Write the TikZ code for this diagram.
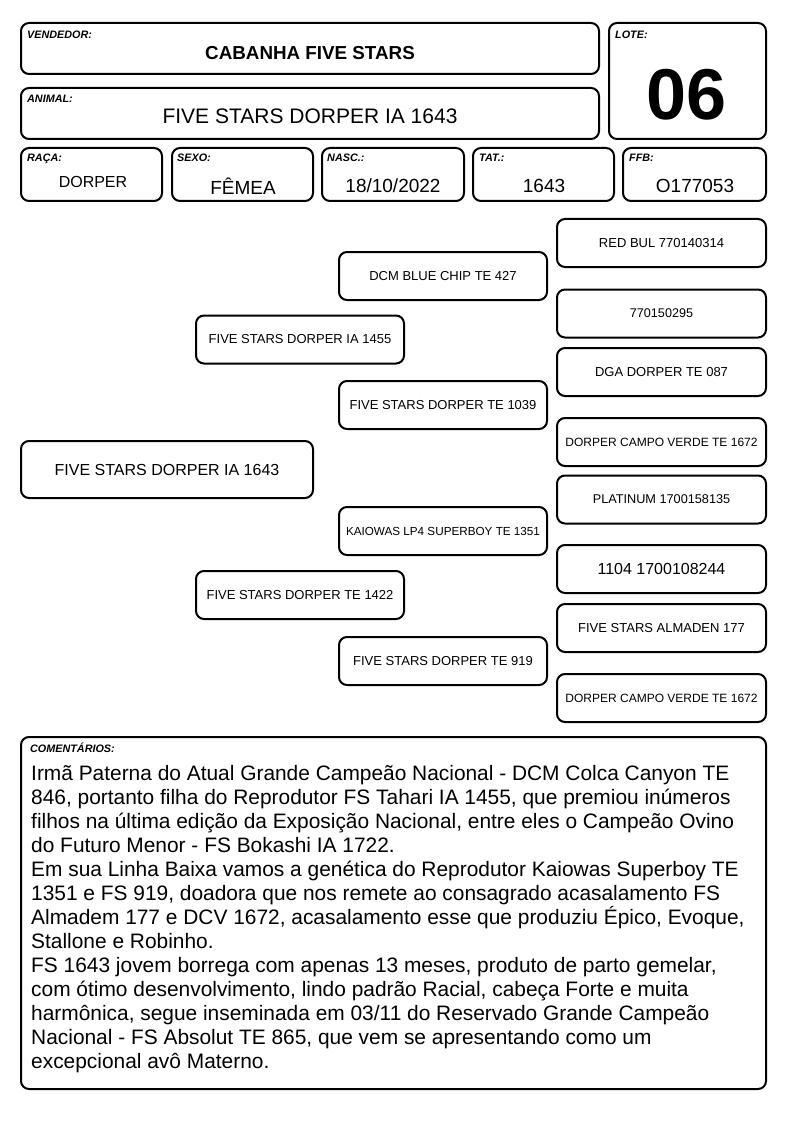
\documentclass[tikz,border=0pt]{standalone}
\usepackage{fontspec}
\setmainfont{Liberation Sans}
\usetikzlibrary{positioning}
\newcommand{\fsz}[1]{\fontsize{#1}{#1}\selectfont}

\begin{document}
\begin{tikzpicture}[x=1pt,y=-1pt,
  box/.style={draw,line width=2pt,rounded corners=8pt,inner sep=0pt},
  lbl/.style={anchor=base west,inner sep=0pt,font=\fsz{10.8}\bfseries\itshape},
  ped/.style={box,minimum width=208pt,minimum height=48pt,font=\fsz{13}}]
\useasboundingbox (0,0) rectangle (794,1123);
\fill [white] (0,0) rectangle (794,1123);

% Header boxes
\node [box,minimum width=578pt,minimum height=51pt] (vendedor) at (310,48.5) {};
\node [box,minimum width=157pt,minimum height=116pt] (lote) at (687.5,81) {};
\node [box,minimum width=578pt,minimum height=51pt] (animal) at (310,113.5) {};
\node [lbl] at (27,39) {VENDEDOR:};
\node [lbl] at (615,39) {LOTE:};
\node [lbl] at (27,103) {ANIMAL:};
\node [font=\fsz{18.8}\bfseries] (vendnome) at (310,53) {CABANHA FIVE STARS};
\node [font=\fsz{72}\bfseries] (lotenum) at (687,95) {06};
\node [font=\fsz{21}] (animalnome) at (310,116) {FIVE STARS DORPER IA 1643};

% Data row
\node [box,minimum width=141pt,minimum height=53pt] (raca) at (91.5,174.5) {};
\node [box,minimum width=141pt,minimum height=53pt] (sexo) at (242.5,174.5) {};
\node [box,minimum width=142pt,minimum height=53pt] (nasc) at (393,174.5) {};
\node [box,minimum width=141pt,minimum height=53pt] (tat) at (543.5,174.5) {};
\node [box,minimum width=143pt,minimum height=53pt] (ffb) at (694.5,174.5) {};
\node [lbl] at (27,162) {RAÇA:};
\node [lbl] at (177,162) {SEXO:};
\node [lbl] at (327,162) {NASC.:};
\node [lbl] at (479,162) {TAT.:};
\node [lbl] at (629,162) {FFB:};
\node [font=\fsz{16}] at (93,182) {DORPER};
\node [font=\fsz{19}] at (243,186) {FÊMEA};
\node [font=\fsz{19}] at (393,186) {18/10/2022};
\node [font=\fsz{19}] at (544,186) {1643};
\node [font=\fsz{19}] at (695,186) {O177053};

% Pedigree
\node [box,minimum width=292pt,minimum height=57pt,font=\fsz{16}] (animalped) at (167,469.5) {FIVE STARS DORPER IA 1643};
\node [ped] (pai) at (300,339.5) {FIVE STARS DORPER IA 1455};
\node [ped] (mae) at (300,595) {FIVE STARS DORPER TE 1422};
\node [ped] (avopai) at (443,276) {DCM BLUE CHIP TE 427};
\node [ped] (avopaim) at (443,405) {FIVE STARS DORPER TE 1039};
\node [ped,font=\fsz{11.7}] (avomae) at (443,531) {KAIOWAS LP4 SUPERBOY TE 1351};
\node [ped] (avomaem) at (443,661) {FIVE STARS DORPER TE 919};
\node [ped,minimum width=209pt] (b1) at (661.5,243) {RED BUL 770140314};
\node [ped,minimum width=209pt,font=\fsz{12.6}] (b2) at (661.5,313.5) {770150295};
\node [ped,minimum width=209pt] (b3) at (661.5,372) {DGA DORPER TE 087};
\node [ped,minimum width=209pt,font=\fsz{12}] (b4) at (661.5,442) {DORPER CAMPO VERDE TE 1672};
\node [ped,minimum width=209pt,font=\fsz{12.7}] (b5) at (661.5,499.5) {PLATINUM 1700158135};
\node [ped,minimum width=209pt,font=\fsz{16}] (b6) at (661.5,569) {1104 1700108244};
\node [ped,minimum width=209pt] (b7) at (661.5,628) {FIVE STARS ALMADEN 177};
\node [ped,minimum width=209pt,font=\fsz{12}] (b8) at (661.5,698) {DORPER CAMPO VERDE TE 1672};

% Comments
\node [box,minimum width=745pt,minimum height=352pt] (coment) at (393.5,913) {};
\node [lbl] at (30,752) {COMENTÁRIOS:};
\node [anchor=north west,inner sep=0pt,align=left,font=\fontsize{20.9}{24}\selectfont] (comenttxt) at (31,765) {Irmã Paterna do Atual Grande Campeão Nacional - DCM Colca Canyon TE\\
846, portanto filha do Reprodutor FS Tahari IA 1455, que premiou inúmeros\\
filhos na última edição da Exposição Nacional, entre eles o Campeão Ovino\\
do Futuro Menor - FS Bokashi IA 1722.\\
Em sua Linha Baixa vamos a genética do Reprodutor Kaiowas Superboy TE\\
1351 e FS 919, doadora que nos remete ao consagrado acasalamento FS\\
Almadem 177 e DCV 1672, acasalamento esse que produziu Épico, Evoque,\\
Stallone e Robinho.\\
FS 1643 jovem borrega com apenas 13 meses, produto de parto gemelar,\\
com ótimo desenvolvimento, lindo padrão Racial, cabeça Forte e muita\\
harmônica, segue inseminada em 03/11 do Reservado Grande Campeão\\
Nacional - FS Absolut TE 865, que vem se apresentando como um\\
excepcional avô Materno.};
\end{tikzpicture}
\end{document}
